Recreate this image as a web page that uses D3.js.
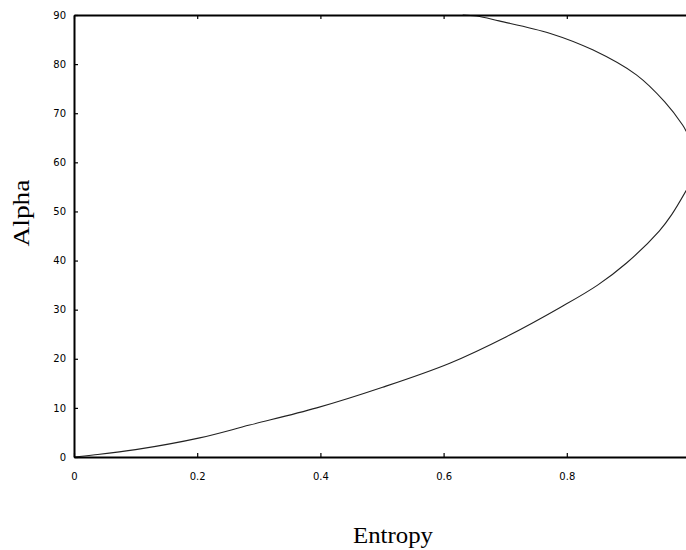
<!DOCTYPE html>
<html>
<head>
<meta charset="utf-8">
<script src="https://cdn.jsdelivr.net/npm/d3@7"></script>
<style>
body { margin: 0; background: #fff; }
svg { display: block; }
</style>
</head>
<body>
<div id="chart"></div>
<script>
// values (entropy, alpha)
var lowerEntropy = [0, 0.031, 0.1, 0.204, 0.285, 0.394, 0.501, 0.61, 0.702, 0.79, 0.85, 0.897, 0.95, 0.97, 0.994];
var lowerAlpha   = [0, 0.4, 1.5, 3.9, 6.5, 10.0, 14.2, 19.1, 24.5, 30.5, 35.0, 39.5, 46.0, 49.3, 54.3];
var upperEntropy = [0.631, 0.654, 0.69, 0.772, 0.842, 0.913, 0.959, 0.988, 0.994];
var upperAlpha   = [90, 89.8, 88.8, 86.3, 82.9, 77.8, 72.3, 67.6, 66.3];
var xTicks = [0, 0.2, 0.4, 0.6, 0.8];
var yTicks = [0, 10, 20, 30, 40, 50, 60, 70, 80, 90];

var svg = d3.select("#chart")
	.append("svg")
	.attr("width", 686)
	.attr("height", 550);

var x = d3.scaleLinear().domain([0, 1]).range([74, 690]);
var y = d3.scaleLinear().domain([0, 90]).range([457, 15]);

var line = d3.line()
	.x(function(d) { return x(d[0]); })
	.y(function(d) { return y(d[1]); })
	.curve(d3.curveCatmullRom);

var lower = lowerEntropy.map(function(e, i) { return [e, lowerAlpha[i]]; });
var upper = upperEntropy.map(function(e, i) { return [e, upperAlpha[i]]; });

// the two boundary curves
[lower, upper].forEach(function(pts) {
	svg.append("path")
		.datum(pts)
		.attr("d", line)
		.style("fill", "none")
		.style("stroke", "#222")
		.style("stroke-width", 1.1);
});

// axes, ticks pointing inward
var gBottom = svg.append("g")
	.attr("transform", "translate(0," + y(0) + ")")
	.call(d3.axisBottom(x).tickValues(xTicks).tickSizeInner(-4).tickSizeOuter(0).tickPadding(16)
		.tickFormat(function(d) { return d === 0 ? "0" : d3.format(".1f")(d); }));

var gTop = svg.append("g")
	.attr("transform", "translate(0," + y(90) + ")")
	.call(d3.axisTop(x).tickValues(xTicks).tickSizeInner(-4).tickSizeOuter(0).tickFormat(""));

var gLeft = svg.append("g")
	.attr("transform", "translate(" + x(0) + ",0)")
	.call(d3.axisLeft(y).tickValues(yTicks).tickSizeInner(-4).tickSizeOuter(0).tickPadding(8));

[gBottom, gTop, gLeft].forEach(function(g) {
	g.select(".domain").style("stroke", "#000").style("stroke-width", 2);
	g.selectAll(".tick line").style("stroke", "#000").style("stroke-width", 1.2);
	g.selectAll("text")
		.style("font-family", "DejaVu Sans, sans-serif")
		.style("font-size", "10px")
		.style("fill", "#000");
});

// axis titles
svg.append("text")
	.text("Entropy")
	.attr("x", 393)
	.attr("y", 543)
	.attr("text-anchor", "middle")
	.attr("textLength", 80)
	.attr("lengthAdjust", "spacingAndGlyphs")
	.style("font-family", "Liberation Serif, serif")
	.style("font-size", "23px");

svg.append("text")
	.text("Alpha")
	.attr("transform", "translate(29,213) rotate(-90)")
	.attr("text-anchor", "middle")
	.attr("textLength", 67)
	.attr("lengthAdjust", "spacingAndGlyphs")
	.style("font-family", "Liberation Serif, serif")
	.style("font-size", "23px");
</script>
</body>
</html>
